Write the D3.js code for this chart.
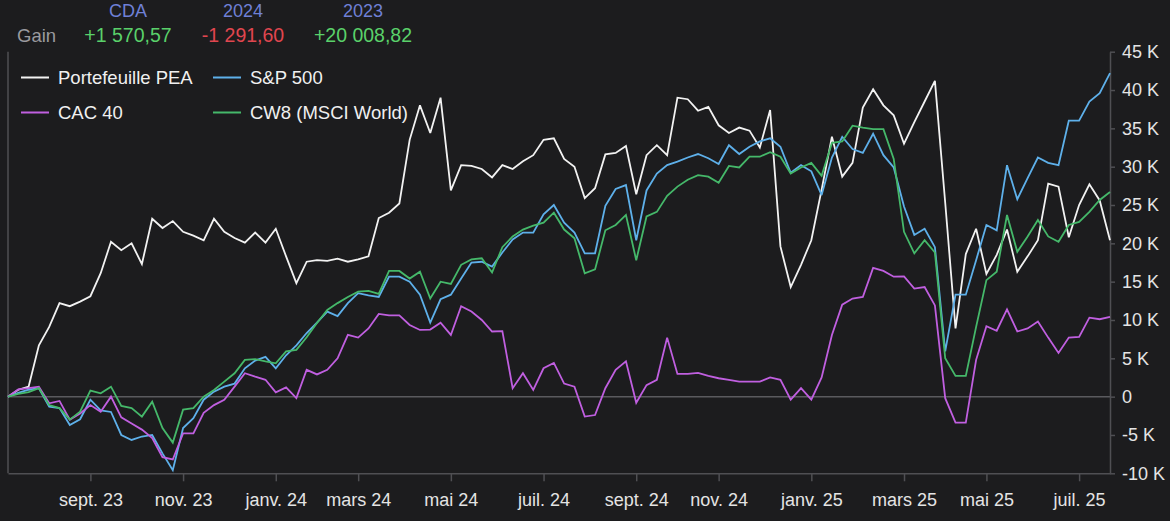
<!DOCTYPE html>
<html>
<head>
<meta charset="utf-8">
<script src="https://cdn.jsdelivr.net/npm/d3@7"></script>
<style>
  html, body { margin: 0; padding: 0; background: #1c1c1e; }
  svg { display: block; font-family: "Liberation Sans", Arial, sans-serif; }
</style>
</head>
<body>
<svg id="chart" width="1170" height="521"></svg>
<script>
// ---- Data (values in thousands of euros, weekly points) ----
const startDate = new Date(2023, 6, 7);
const pointCount = 108;

const pea = [0,0.9,1.3,6.7,9.1,12.2,11.8,12.4,13.1,16.1,20.2,19.1,20.0,17.3,23.2,22.0,22.9,21.5,21.0,20.4,
  23.2,21.5,20.7,20.1,21.4,20.1,21.9,18.3,14.8,17.6,17.8,17.7,18.0,17.6,17.9,18.3,23.3,24.0,25.2,33.5,
  38.0,34.4,39.0,26.9,30.2,30.1,29.7,28.6,30.2,29.7,30.7,31.5,33.5,33.7,31.0,30.0,25.9,27.2,31.6,31.8,
  32.7,26.4,31.5,32.8,31.5,39.0,38.8,37.3,37.8,35.4,34.4,35.1,34.7,32.5,37.4,19.6,14.3,17.2,20.4,27.0,
  33.9,28.7,30.5,37.7,40.1,38.0,36.7,33.0,35.8,38.5,41.2,25.3,8.9,18.6,21.9,16.0,18.5,21.8,16.3,18.3,
  20.4,27.8,27.4,20.8,25.0,27.7,25.6,20.4];

const sp500 = [0,0.5,0.9,1.1,-1.3,-1.5,-3.7,-2.95,-0.4,-1.8,-2.0,-5.0,-5.65,-5.2,-5.0,-7.4,-9.6,-4.1,-2.8,-0.4,
  0.65,1.3,1.7,3.7,4.7,5.2,3.7,5.4,6.7,8.3,9.65,11.1,10.5,12.2,13.5,13.2,13.0,15.65,15.65,15.0,
  13.3,9.65,12.7,13.3,15.4,17.5,17.6,16.96,18.8,20.5,21.4,21.4,23.8,25.0,22.7,21.4,18.7,18.7,24.9,27.1,
  27.6,20.4,26.9,29.1,30.2,30.65,31.2,31.65,31.1,30.35,32.8,31.65,32.6,33.3,33.7,32.6,29.2,30.2,29.4,26.3,
  31.2,33.9,32.3,31.8,34.3,31.5,29.9,24.8,21.1,21.9,19.5,5.9,13.3,13.3,17.8,22.4,21.7,30.2,25.75,28.5,
  31.2,30.5,30.2,36.0,36.0,38.5,39.6,42.2];

const cac40 = [0,0.96,1.1,1.3,-0.87,-0.56,-3.0,-2.2,-1.1,-1.96,0,-2.7,-3.5,-4.3,-5.4,-7.9,-8.2,-4.8,-4.8,-2.1,
  -1.1,-0.4,1.3,3.05,2.6,2.2,0.57,1.2,-0.2,3.5,2.9,3.5,5.0,8.05,7.7,8.9,10.8,10.6,10.6,9.35,
  8.7,8.75,9.65,8.05,11.8,11.1,10.0,8.5,8.55,1.1,3.05,0.87,3.7,4.4,1.7,1.3,-2.6,-2.4,1.1,3.5,
  4.6,-0.8,1.5,2.2,7.7,2.96,2.96,3.1,2.7,2.4,2.2,1.96,1.96,1.96,2.5,2.2,-0.4,1.1,-0.4,2.5,
  8.05,12.0,12.8,13.0,16.8,16.4,15.65,15.7,14.1,14.3,11.9,-0.2,-3.4,-3.4,4.8,9.2,8.6,11.4,8.5,8.9,
  9.8,7.7,5.7,7.7,7.8,10.3,10.1,10.4];

const cw8 = [0,0.35,0.6,1.1,-1.1,-1.5,-3.0,-1.96,0.8,0.43,1.3,-1.2,-1.5,-2.6,-0.65,-4.1,-6.0,-1.7,-1.5,0,
  0.87,1.96,3.05,4.8,4.9,4.6,4.35,5.9,6.1,7.75,9.6,11.3,12.2,13.0,13.7,13.8,13.4,16.4,16.4,15.4,
  16.3,12.8,15.0,14.7,17.2,17.9,18.05,16.2,19.5,20.9,21.8,22.3,22.7,24.0,21.8,20.65,16.1,16.6,21.7,22.4,
  23.7,17.8,23.5,24.1,26.2,27.4,28.3,28.9,28.7,27.9,30.1,29.9,31.3,31.3,31.9,31.3,29.1,29.9,30.5,28.8,
  33.1,33.3,35.35,35.1,34.9,34.9,31.0,21.5,18.7,20.4,18.8,5.0,2.7,2.7,9.1,15.2,16.3,23.7,18.9,20.9,
  23.05,20.9,20.2,22.4,22.8,24.1,25.65,26.7];

const seriesNames = ["Portefeuille PEA", "S&P 500", "CAC 40", "CW8 (MSCI World)"];
const seriesValues = [pea, sp500, cac40, cw8];
const seriesColors = ["#f2f2f2", "#5eb0ea", "#c05fe0", "#45b86a"];

const xTickLabels = ["sept. 23","nov. 23","janv. 24","mars 24","mai 24","juil. 24",
                     "sept. 24","nov. 24","janv. 25","mars 25","mai 25","juil. 25"];
const yTicks = [-10,-5,0,5,10,15,20,25,30,35,40,45];

const headerPeriods = ["CDA", "2024", "2023"];
const headerGains = ["+1 570,57", "-1 291,60", "+20 008,82"];
const headerGainColors = ["#5ad16a", "#e0464f", "#5ad16a"];

// ---- Build ----
const dates = d3.range(pointCount).map(i => d3.timeDay.offset(startDate, 7 * i));
const svg = d3.select("#chart");
svg.append("rect").attr("width", 1170).attr("height", 521).attr("fill", "#1c1c1e");

const plotLeft = 8, plotRight = 1110, plotTop = 51.7, plotBottom = 473.3;
const x = d3.scalePoint().domain(d3.range(pointCount)).range([plotLeft, plotRight]);
const y = d3.scaleLinear().domain([-10, 45]).range([plotBottom, plotTop]);

// tick positions: first point of each even-indexed month (Sep, Nov, Jan, ...)
const tickIdx = d3.range(1, pointCount).filter(i =>
  dates[i].getMonth() !== dates[i - 1].getMonth() && dates[i].getMonth() % 2 === 0);

const axisColor = "#4f4f53";

// left frame line
svg.append("line").attr("x1", plotLeft).attr("x2", plotLeft).attr("y1", plotTop).attr("y2", plotBottom)
  .attr("stroke", axisColor).attr("stroke-width", 1.5);

// zero line
svg.append("line").attr("x1", plotLeft).attr("x2", plotRight).attr("y1", y(0)).attr("y2", y(0))
  .attr("stroke", "#5a5a5e").attr("stroke-width", 1.5);

// x axis
const gx = svg.append("g").attr("transform", `translate(0,${plotBottom})`)
  .call(d3.axisBottom(x).tickValues(tickIdx).tickFormat((d, i) => xTickLabels[i])
    .tickSize(8).tickSizeOuter(0).tickPadding(12));
gx.select(".domain").attr("stroke", axisColor).attr("stroke-width", 1.5);
gx.selectAll(".tick line").attr("stroke", axisColor).attr("stroke-width", 1.5);
gx.selectAll(".tick text").attr("fill", "#e4e4e4").style("font-size", "18px")
  .style("font-family", "Liberation Sans, Arial, sans-serif");

// y axis (right)
const gy = svg.append("g").attr("transform", `translate(${plotRight},0)`)
  .call(d3.axisRight(y).tickValues(yTicks).tickFormat(v => v === 0 ? "0" : v + " K")
    .tickSize(5).tickSizeOuter(0).tickPadding(7));
gy.select(".domain").attr("stroke", axisColor).attr("stroke-width", 1.5);
gy.selectAll(".tick line").attr("stroke", axisColor).attr("stroke-width", 1.5);
gy.selectAll(".tick text").attr("fill", "#e4e4e4").style("font-size", "18px")
  .style("font-family", "Liberation Sans, Arial, sans-serif");

// lines
const line = d3.line().x((d, i) => x(i)).y(d => y(d));
seriesValues.forEach((vals, k) => {
  svg.append("path").datum(vals)
    .attr("d", line)
    .attr("fill", "none")
    .attr("stroke", seriesColors[k])
    .attr("stroke-width", 1.8)
    .attr("stroke-linejoin", "miter")
    .attr("stroke-miterlimit", 3);
});

// legend
const legendPos = [[21, 77.5], [213, 77.5], [21, 112.5], [213, 112.5]];
seriesNames.forEach((name, k) => {
  const [lx, ly] = legendPos[k];
  svg.append("line").attr("x1", lx).attr("x2", lx + 28).attr("y1", ly).attr("y2", ly)
    .attr("stroke", seriesColors[k]).attr("stroke-width", 2);
  svg.append("text").attr("x", lx + 37).attr("y", ly).attr("dy", "0.35em")
    .attr("fill", "#f0f0f0").style("font-size", "18.5px").text(name);
});

// header
const headerX = [128, 243, 363];
svg.append("text").attr("x", 17).attr("y", 41.5).attr("fill", "#9a9a9e")
  .style("font-size", "18.5px").text("Gain");
headerPeriods.forEach((p, k) => {
  svg.append("text").attr("x", headerX[k]).attr("y", 16.5).attr("text-anchor", "middle")
    .attr("fill", "#6f80d6").style("font-size", "18px").text(p);
  svg.append("text").attr("x", headerX[k]).attr("y", 41.5).attr("text-anchor", "middle")
    .attr("fill", headerGainColors[k]).style("font-size", "19.5px").text(headerGains[k]);
});
</script>
</body>
</html>
